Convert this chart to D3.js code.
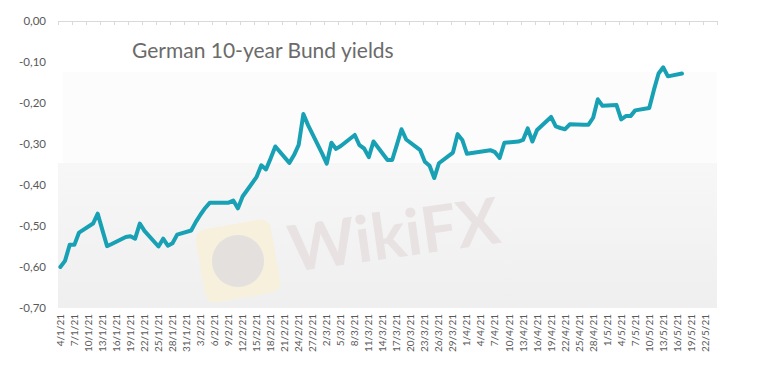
<!DOCTYPE html>
<html>
<head>
<meta charset="utf-8">
<script src="https://cdn.jsdelivr.net/npm/d3@7/dist/d3.min.js"></script>
<style>
  html, body { margin: 0; padding: 0; background: #fff; }
  svg { display: block; }
  text { font-family: Lato, "Open Sans", sans-serif; }
</style>
</head>
<body>
<svg id="chart" width="757" height="382"></svg>
<script>
// business days
var days = [
  '4/1/21','5/1/21','6/1/21','7/1/21','8/1/21','11/1/21','12/1/21','13/1/21','14/1/21','15/1/21',
  '18/1/21','19/1/21','20/1/21','21/1/21','22/1/21','25/1/21','26/1/21','27/1/21','28/1/21','29/1/21',
  '1/2/21','2/2/21','3/2/21','4/2/21','5/2/21','8/2/21','9/2/21','10/2/21','11/2/21','12/2/21',
  '15/2/21','16/2/21','17/2/21','18/2/21','19/2/21','22/2/21','23/2/21','24/2/21','25/2/21','26/2/21',
  '1/3/21','2/3/21','3/3/21','4/3/21','5/3/21','8/3/21','9/3/21','10/3/21','11/3/21','12/3/21',
  '15/3/21','16/3/21','17/3/21','18/3/21','19/3/21','22/3/21','23/3/21','24/3/21','25/3/21','26/3/21',
  '29/3/21','30/3/21','31/3/21','1/4/21','6/4/21','7/4/21','8/4/21','9/4/21',
  '12/4/21','13/4/21','14/4/21','15/4/21','16/4/21','19/4/21','20/4/21','21/4/21','22/4/21','23/4/21',
  '26/4/21','27/4/21','28/4/21','29/4/21','30/4/21','3/5/21','4/5/21','5/5/21','6/5/21','7/5/21',
  '10/5/21','11/5/21','12/5/21','13/5/21','14/5/21','17/5/21'
];
var yields = [
  -0.600, -0.585, -0.546, -0.546, -0.516, -0.494, -0.470, -0.510, -0.549, -0.544,
  -0.527, -0.525, -0.531, -0.494, -0.512, -0.550, -0.531, -0.548, -0.542, -0.521,
  -0.511, -0.490, -0.472, -0.456, -0.443, -0.443, -0.443, -0.438, -0.457, -0.428,
  -0.380, -0.352, -0.362, -0.335, -0.306, -0.346, -0.327, -0.302, -0.227, -0.254,
  -0.323, -0.348, -0.297, -0.312, -0.305, -0.278, -0.303, -0.311, -0.332, -0.294,
  -0.339, -0.339, -0.302, -0.264, -0.289, -0.315, -0.343, -0.353, -0.383, -0.347,
  -0.321, -0.276, -0.290, -0.324, -0.315, -0.320, -0.334, -0.297,
  -0.294, -0.290, -0.262, -0.294, -0.266, -0.234, -0.257, -0.261, -0.264, -0.252,
  -0.253, -0.253, -0.236, -0.191, -0.207, -0.205, -0.240, -0.232, -0.232, -0.218,
  -0.212, -0.168, -0.128, -0.113, -0.135, -0.128
];
var yTicks = [0, -0.1, -0.2, -0.3, -0.4, -0.5, -0.6, -0.7];
var title = 'German 10-year Bund yields';

var parse = d3.timeParse('%d/%m/%y');
var fmtDay = d3.timeFormat('%-d/%-m/%y');
var fmtY = function (v) { return d3.format('.2f')(v).replace('\u2212', '-').replace('.', ','); };

var data = days.map(function (d, i) { return { date: parse(d), value: yields[i] }; });

var plotL = 58, plotR = 717, plotT = 21, plotB = 308;
var svg = d3.select('#chart');

// each day is a slot, points sit in the middle of it
var x = d3.scaleTime()
  .domain([new Date(2021, 0, 3, 12), new Date(2021, 4, 24, 12)])
  .range([plotL, plotR]);
var y = d3.scaleLinear().domain([-0.7, 0]).range([plotB, plotT]);

// plot background
var defs = svg.append('defs');
var grad = defs.append('linearGradient').attr('id', 'bg').attr('x1', 0).attr('y1', 0).attr('x2', 0).attr('y2', 1);
grad.append('stop').attr('offset', '0%').attr('stop-color', '#f7f7f7');
grad.append('stop').attr('offset', '100%').attr('stop-color', '#efefef');
svg.append('rect').attr('x', plotL + 5).attr('y', 72).attr('width', plotR - plotL - 5).attr('height', 91).attr('fill', '#fcfcfc');
svg.append('rect').attr('x', plotL).attr('y', 163).attr('width', plotR - plotL).attr('height', plotB - 163).attr('fill', 'url(#bg)');

// watermark
var wm = svg.append('g').attr('class', 'watermark');
wm.append('rect').attr('x', 200).attr('y', 224).attr('width', 76).attr('height', 74).attr('rx', 10)
  .attr('fill', '#f6f0dc').attr('transform', 'rotate(-10 238 261)');
wm.append('circle').attr('cx', 238).attr('cy', 261).attr('r', 26).attr('fill', '#e3e0de');
wm.append('text').attr('x', 292).attr('y', 272).attr('transform', 'rotate(-8 292 272)')
  .attr('font-size', 64).attr('font-weight', 700).attr('fill', '#e8e2e2').text('WikiFX');

// axis line at 0 with tick marks every 3 days
var tickMarks = d3.range(0, 142, 3).map(function (i) { return d3.timeHour.offset(new Date(2021, 0, 3, 12), i * 24); });
svg.append('line').attr('x1', plotL).attr('x2', plotR).attr('y1', y(0) + 0.5).attr('y2', y(0) + 0.5)
  .attr('stroke', '#d9d9d9').attr('stroke-width', 1);
svg.append('g').selectAll('line').data(tickMarks).join('line')
  .attr('x1', function (d) { return Math.round(x(d)) + 0.5; })
  .attr('x2', function (d) { return Math.round(x(d)) + 0.5; })
  .attr('y1', y(0)).attr('y2', y(0) + 4)
  .attr('stroke', '#d9d9d9');

// y labels
svg.append('g').selectAll('text').data(yTicks).join('text')
  .attr('x', 46).attr('y', function (d) { return y(d); }).attr('dy', '0.35em')
  .attr('text-anchor', 'end').attr('font-size', 11.5).attr('fill', '#595959')
  .text(fmtY);

// x labels, rotated
var labelDays = d3.timeDay.every(1).range(new Date(2021, 0, 4), new Date(2021, 4, 23)).filter(function (d, i) { return i % 3 === 0; });
svg.append('g').selectAll('text').data(labelDays).join('text')
  .attr('transform', function (d) { return 'translate(' + x(d) + ',' + (plotB + 6) + ') rotate(-90)'; })
  .attr('dy', '0.35em').attr('text-anchor', 'end').attr('font-size', 10).attr('fill', '#595959')
  .text(fmtDay);

// the series
var line = d3.line().x(function (d) { return x(d.date); }).y(function (d) { return y(d.value); });
svg.append('path').datum(data).attr('d', line)
  .attr('fill', 'none').attr('stroke', '#18a0b4').attr('stroke-width', 4)
  .attr('stroke-linejoin', 'round').attr('stroke-linecap', 'round');

// title
svg.append('text').attr('x', 132).attr('y', 58).attr('font-size', 21).attr('fill', '#6b6b6b').text(title);
</script>
</body>
</html>
